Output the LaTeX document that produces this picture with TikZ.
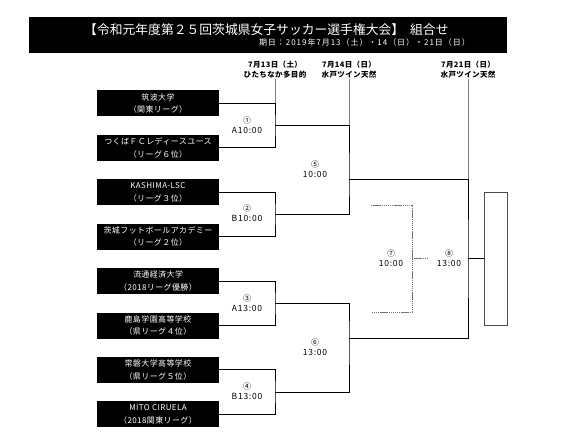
\documentclass[tikz,border=0pt]{standalone}
\usepackage{fontspec}
\setmainfont{Noto Sans CJK JP}
\newfontfamily\jpsp[LetterSpace=5]{Noto Sans CJK JP}
\newfontfamily\jpspw[LetterSpace=9]{Noto Sans CJK JP}
\newfontfamily\jpspx[LetterSpace=12]{Noto Sans CJK JP}
\begin{document}
\begin{tikzpicture}[x=1pt,y=-1pt,
  team/.style={fill=black,text=white,minimum width=122pt,minimum height=26pt,inner sep=0pt,align=center,font=\jpsp\fontsize{8}{12.5}\selectfont},
  lab/.style={align=center,inner sep=0pt,font=\jpspw\fontsize{8.5}{10}\selectfont},
  datel/.style={align=center,inner sep=1pt,font=\jpsp\bfseries\fontsize{7.5}{10}\selectfont},
  br/.style={line width=0.9pt,black},
  dl/.style={line width=0.5pt,gray},
  dsh/.style={line width=0.9pt,black!55,dash pattern=on 1.4pt off 0.7pt}]
\useasboundingbox (0,0) rectangle (564,446);
% header
\node[fill=black,minimum width=478pt,minimum height=36pt,inner sep=0pt] (hdr) at (268,35) {};
\node[anchor=west,text=white,inner sep=0pt,font=\fontsize{12.8}{14}\selectfont] (title) at (84,29.5) {【令和元年度第２５回茨城県女子サッカー選手権大会】\hspace{6pt}組合せ};
\node[anchor=east,text=white,inner sep=0pt,font=\jpspx\fontsize{8}{9}\selectfont] (sub) at (470,42.5) {期日：2019年7月13（土）・14（日）・21日（日）};
% dates
\node[datel] (d1) at (275,69.5) {7月13日（土）\\ひたちなか多目的};
\node[datel] (d2) at (349,69.5) {7月14日（日）\\水戸ツイン天然};
\node[datel] (d3) at (468,69.5) {7月21日（日）\\水戸ツイン天然};
% teams
\node[team] (t1) at (158,103.5) {筑波大学\\（関東リーグ）};
\node[team] (t2) at (158,147.9) {つくばＦＣレディースユース\\（リーグ６位）};
\node[team] (t3) at (158,192.3) {KASHIMA-LSC\\（リーグ３位）};
\node[team] (t4) at (158,236.7) {茨城フットボールアカデミー\\（リーグ２位）};
\node[team] (t5) at (158,281.1) {流通経済大学\\（2018リーグ優勝）};
\node[team] (t6) at (158,325.5) {鹿島学園高等学校\\（県リーグ４位）};
\node[team] (t7) at (158,369.9) {常磐大学高等学校\\（県リーグ５位）};
\node[team] (t8) at (158,414.3) {MITO CIRUELA\\（2018関東リーグ）};
% champion box
\node[draw=black!70,line width=0.9pt,minimum width=23pt,minimum height=133pt,inner sep=0pt] (champ) at (495.5,258.5) {};
% bracket points
\coordinate (m1) at (275,125.7);
\coordinate (m2) at (275,214.5);
\coordinate (m3) at (275,303.3);
\coordinate (m4) at (275,392.1);
\coordinate (j5) at (349,179);
\coordinate (j6) at (349,338);
\coordinate (j8) at (468,258.5);
\coordinate (q1) at (371,205);
\coordinate (q2) at (371,312);
\coordinate (q4) at (412,258.5);
\coordinate (q3) at (428,258.5);
% date lines
\draw[dl] (d1.south) -- (d1.south |- t1.east);
\draw[dl] (d2.south) -- (d2.south |- m1);
\draw[dl] (d3.south) -- (d3.south |- j5);
% round 1
\draw[br] (t1.east) -| (m1) |- (t2.east);
\draw[br] (t3.east) -| (m2) |- (t4.east);
\draw[br] (t5.east) -| (m3) |- (t6.east);
\draw[br] (t7.east) -| (m4) |- (t8.east);
% round 2
\draw[br] (m1) -| (j5) |- (m2);
\draw[br] (m3) -| (j6) |- (m4);
% final
\draw[br] (j5) -| (j8) |- (j6);
\draw[br] (j8) -- (champ.west);
% third place (dashed)
\draw[dsh] (q1) -| (q4) |- (q2);
\draw[dsh] (q4) -- (q3);
% labels
\node[lab] (l1) at (247,125.5) {{\fontsize{8}{8}\selectfont ①}\\A10:00};
\node[lab] (l2) at (247,213) {{\fontsize{8}{8}\selectfont ②}\\B10:00};
\node[lab] (l3) at (247,303) {{\fontsize{8}{8}\selectfont ③}\\A13:00};
\node[lab] (l4) at (247,391.5) {{\fontsize{8}{8}\selectfont ④}\\B13:00};
\node[lab] (l5) at (315,169.5) {{\fontsize{8}{8}\selectfont ⑤}\\10:00};
\node[lab] (l6) at (315,347) {{\fontsize{8}{8}\selectfont ⑥}\\13:00};
\node[lab] (l7) at (391,258.5) {{\fontsize{8}{8}\selectfont ⑦}\\10:00};
\node[lab] (l8) at (449,258.5) {{\fontsize{8}{8}\selectfont ⑧}\\13:00};
\end{tikzpicture}
\end{document}
